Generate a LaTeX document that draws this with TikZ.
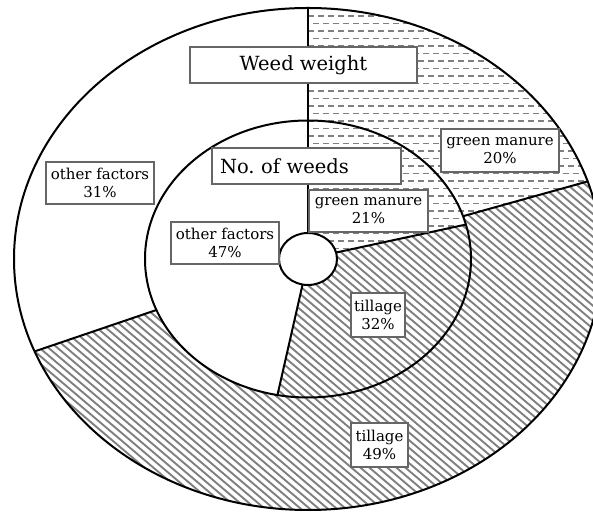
\documentclass[tikz,border=0pt]{standalone}
\usepackage{fontspec}
\setmainfont{DejaVu Serif}
\usetikzlibrary{positioning}

% radii of the three rings (x and y, the chart is stretched sideways)
\newcommand{\holerx}{29}
\newcommand{\holery}{26}
\newcommand{\innrx}{163}
\newcommand{\innry}{138.5}
\newcommand{\outrx}{294}
\newcommand{\outry}{251}
% point on an ellipse: angle, rx, ry
\newcommand{\ept}[3]{(#1:#2 and #3)}
% ring sector: start, end, inner rx, inner ry, outer rx, outer ry
\newcommand{\ringsector}[6]{(#1:#5 and #6) arc[start angle=#1, end angle=#2, x radius=#5, y radius=#6]
  -- (#2:#3 and #4) arc[start angle=#2, end angle=#1, x radius=#3, y radius=#4] -- cycle}

\begin{document}
\begin{tikzpicture}[
  x=1pt, y=1pt,
  lbl/.style={rectangle, draw=black!60, line width=1.3pt, fill=white, align=center,
              inner sep=2pt, font=\fontsize{15}{18}\selectfont},
  titlebox/.style={lbl, font=\fontsize{19.5}{22}\selectfont},
  rim/.style={line width=2pt, black},
  hatch/.style={line width=1.9pt, black!50},
  dashrow/.style={line width=1.2pt, black!50, dash pattern=on 6pt off 4pt}
]
\clip (0,0) rectangle (593,513);
\fill[white] (0,0) rectangle (593,513);

\begin{scope}[shift={(308,254)}]
  % tillage hatching
  \begin{scope}
    \clip \ringsector{14.4}{-100.8}{\holerx}{\holery}{\innrx}{\innry}
          \ringsector{18}{-158.4}{\innrx}{\innry}{\outrx}{\outry};
    \foreach \k in {-960,-951,...,260}
      \draw[hatch] (\k,300) -- ++(700,-595);
  \end{scope}
  % green manure dashes
  \begin{scope}
    \clip \ringsector{90}{14.4}{\holerx}{\holery}{\innrx}{\innry}
          \ringsector{90}{18}{\innrx}{\innry}{\outrx}{\outry};
    \foreach \r in {3,18,...,260}
      \draw[dashrow] (0,\r) -- (300,\r);
    \foreach \r in {10.5,25.5,...,260}
      \draw[dashrow, dash phase=5pt] (0,\r) -- (300,\r);
  \end{scope}
  % outlines
  \draw[rim] (0,0) ellipse[x radius=\outrx, y radius=\outry];
  \draw[rim] (0,0) ellipse[x radius=\innrx, y radius=\innry];
  \draw[rim, fill=white] (0,0) ellipse[x radius=\holerx, y radius=\holery];
  \draw[rim] \ept{90}{\holerx}{\holery} -- \ept{90}{\outrx}{\outry};
  \draw[rim] \ept{18}{\innrx}{\innry} -- \ept{18}{\outrx}{\outry};
  \draw[rim] \ept{-158.4}{\innrx}{\innry} -- \ept{-158.4}{\outrx}{\outry};
  \draw[rim] \ept{14.4}{\holerx}{\holery} -- \ept{14.4}{\innrx}{\innry};
  \draw[rim] \ept{-100.8}{\holerx}{\holery} -- \ept{-100.8}{\innrx}{\innry};
\end{scope}

% labels
\node[titlebox, minimum width=227pt, minimum height=36pt] (wtitle) at (303.5,448) {Weed weight};
\node[titlebox, text width=173pt, align=left, inner xsep=8pt, minimum height=36pt] (ntitle) at (306.5,347) {No.\ of weeds};
\node[lbl, minimum width=119pt, minimum height=42pt] (gm21) at (368.5,302) {green manure\\21\%};
\node[lbl, minimum width=108pt, minimum height=42pt] (of47) at (225,270) {other factors\\47\%};
\node[lbl, minimum width=108pt, minimum height=42pt] (of31) at (100,330) {other factors\\31\%};
\node[lbl, minimum width=118pt, minimum height=43pt] (gm20) at (500,362.5) {green manure\\20\%};
\node[lbl, minimum width=54pt, minimum height=44pt] (ti32) at (378,198) {tillage\\32\%};
\node[lbl, minimum width=57pt, minimum height=44pt] (ti49) at (379.5,68) {tillage\\49\%};
\end{tikzpicture}
\end{document}
